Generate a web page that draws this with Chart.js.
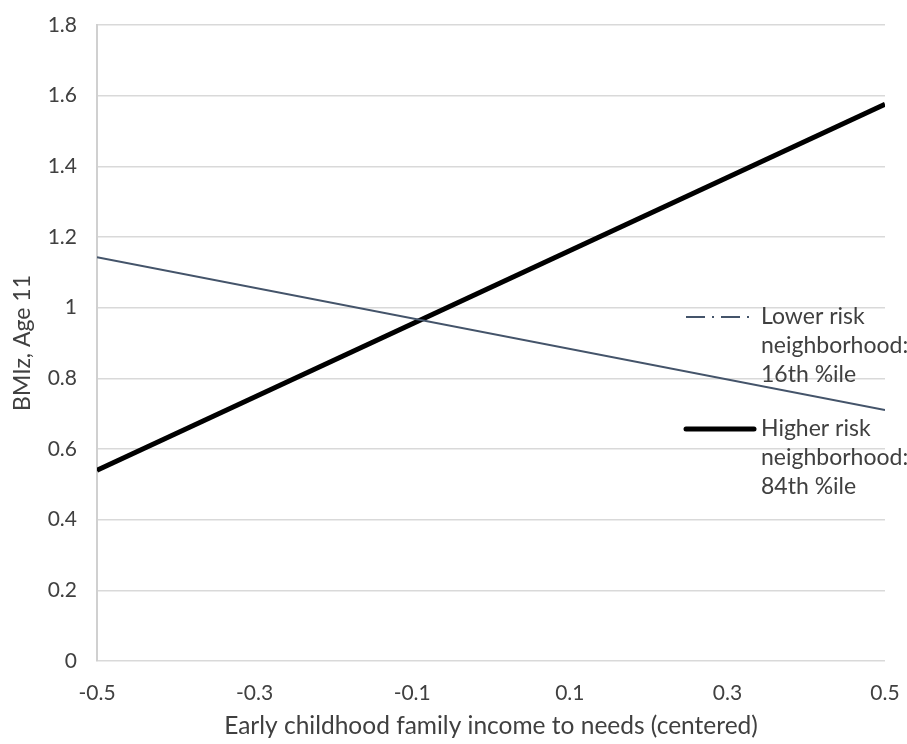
<!DOCTYPE html>
<html>
<head>
<meta charset="utf-8">
<script src="https://cdn.jsdelivr.net/npm/chart.js@4/dist/chart.umd.min.js"></script>
<style>
  html, body { margin: 0; padding: 0; background: #fff; }
  #wrap { width: 907px; height: 744px; }
</style>
</head>
<body>
<div id="wrap"><canvas id="chart"></canvas></div>
<script>
const xValues = [-0.5, 0.5];
const lowerRisk = [1.143, 0.71];
const higherRisk = [0.54, 1.576];
const seriesNames = [
  ['Lower risk', 'neighborhood:', '16th %ile'],
  ['Higher risk', 'neighborhood:', '84th %ile']
];

const FONT = "Lato, 'Open Sans', sans-serif";
const TEXT = '#404040';

const toPoints = (ys) => xValues.map((x, i) => ({ x: x, y: ys[i] }));

// legend drawn inside the plot, on top of the gridlines
const sideLegend = {
  id: 'sideLegend',
  afterDatasetsDraw(chart) {
    const ctx = chart.ctx;
    const blocks = [
      { y: 317, color: '#44546A', width: 2, cap: 'butt', dash: [19, 7, 2, 7], names: seriesNames[0] },
      { y: 429, color: '#000000', width: 5, cap: 'round', dash: [], names: seriesNames[1] }
    ];
    ctx.save();
    ctx.font = '23px ' + FONT;
    ctx.textBaseline = 'middle';
    blocks.forEach(b => {
      ctx.beginPath();
      ctx.strokeStyle = b.color;
      ctx.lineWidth = b.width;
      ctx.lineCap = b.cap;
      ctx.setLineDash(b.dash);
      ctx.moveTo(686, b.y);
      ctx.lineTo(754, b.y);
      ctx.stroke();
      ctx.setLineDash([]);
      ctx.fillStyle = TEXT;
      b.names.forEach((t, i) => ctx.fillText(t, 761, b.y + i * 29));
    });
    ctx.restore();
  }
};

new Chart(document.getElementById('chart'), {
  type: 'line',
  data: {
    datasets: [
      {
        label: 'Lower risk neighborhood: 16th %ile',
        data: toPoints(lowerRisk),
        borderColor: '#44546A',
        borderWidth: 2,
        pointRadius: 0
      },
      {
        label: 'Higher risk neighborhood: 84th %ile',
        data: toPoints(higherRisk),
        borderColor: '#000000',
        borderWidth: 5,
        pointRadius: 0
      }
    ]
  },
  options: {
    responsive: true,
    maintainAspectRatio: false,
    animation: false,
    layout: { padding: { top: 25, right: 22, left: 0, bottom: 0 } },
    plugins: {
      legend: { display: false },
      tooltip: { enabled: false }
    },
    scales: {
      x: {
        type: 'linear',
        min: -0.5,
        max: 0.5,
        grid: { display: false, drawTicks: false },
        border: { display: false },
        ticks: {
          stepSize: 0.2,
          padding: 20,
          color: TEXT,
          font: { family: FONT, size: 21 },
          callback: v => Number(v.toFixed(1)).toString()
        },
        title: {
          display: true,
          text: 'Early childhood family income to needs (centered)',
          color: TEXT,
          font: { family: FONT, size: 24.5 },
          padding: { top: 0, bottom: 3 }
        },
        afterFit: s => { s.height = 83; s.paddingLeft = 0; s.paddingRight = 0; }
      },
      y: {
        min: 0,
        max: 1.8,
        grid: { color: '#d9d9d9', lineWidth: 1.5, drawTicks: false },
        border: { color: '#d0d0d0', width: 2 },
        ticks: {
          stepSize: 0.2,
          padding: 20,
          color: TEXT,
          font: { family: FONT, size: 21 },
          callback: v => Number(v.toFixed(1)).toString()
        },
        title: {
          display: true,
          text: 'BMIz, Age 11',
          color: TEXT,
          font: { family: FONT, size: 23 },
          padding: { top: 9, bottom: 0 }
        },
        afterFit: s => { s.width = 97; s.paddingTop = 0; s.paddingBottom = 0; }
      }
    }
  },
  plugins: [sideLegend]
});
</script>
</body>
</html>
